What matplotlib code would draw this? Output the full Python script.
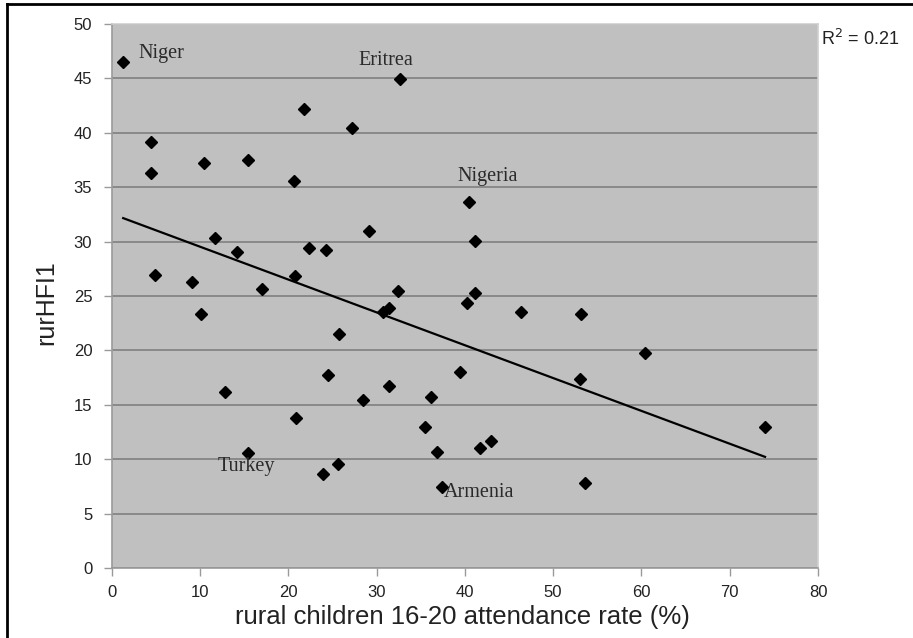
import numpy as np
import matplotlib
matplotlib.use('Agg')
import matplotlib.pyplot as plt
from matplotlib.lines import Line2D

# attendance rate (%) and rurHFI1 for each country
attendance = [1.3, 4.45, 4.45, 10.5, 15.4, 20.6, 21.8, 27.2, 32.6, 29.1,
              11.7, 14.15, 22.3, 24.3, 4.87, 9.13, 17.06, 20.8, 32.45, 31.4,
              30.75, 40.5, 41.1, 41.1, 40.3, 10.1, 25.8, 24.45, 39.5, 12.8,
              31.4, 28.5, 36.2, 20.9, 35.5, 15.4, 36.9, 25.6, 23.9, 37.4,
              46.4, 53.2, 60.4, 53.0, 74.0, 41.7, 43.0, 53.6]
hfi = [46.5, 39.2, 36.3, 37.2, 37.5, 35.6, 42.15, 40.4, 44.9, 31.0,
       30.3, 29.05, 29.45, 29.2, 26.9, 26.26, 25.6, 26.8, 25.46, 23.9,
       23.5, 33.6, 30.1, 25.3, 24.35, 23.3, 21.5, 17.75, 18.0, 16.2,
       16.7, 15.4, 15.75, 13.8, 13.0, 10.55, 10.7, 9.54, 8.6, 7.4,
       23.5, 23.35, 19.8, 17.4, 13.0, 11.0, 11.65, 7.8]

# labelled countries: name, text position (x, y)
country_names = ['Niger', 'Eritrea', 'Nigeria', 'Turkey', 'Armenia']
label_x = [3.0, 28.0, 39.2, 12.0, 37.6]
label_y = [47.3, 46.6, 36.0, 9.3, 6.9]

r2_text = 'R$^2$ = 0.21'
x_ticks = [0, 10, 20, 30, 40, 50, 60, 70, 80]
y_ticks = [0, 5, 10, 15, 20, 25, 30, 35, 40, 45, 50]

W, H = 913, 638
fig = plt.figure(figsize=(W / 100, H / 100), dpi=100)
fig.patch.set_facecolor('white')

ax = fig.add_axes([111.7 / W, (H - 568) / H, (818 - 111.7) / W, (568 - 24) / H])
ax.set_facecolor('#c0c0c0')
ax.set_xlim(0, 80)
ax.set_ylim(0, 50)
ax.set_xticks(x_ticks)
ax.set_yticks(y_ticks)
ax.yaxis.grid(True, color='#858585', linewidth=1.3)
ax.set_axisbelow(True)
for side in ['left', 'bottom']:
    ax.spines[side].set_color('#9a9a9a')
    ax.spines[side].set_linewidth(1.2)
for side in ['top', 'right']:
    ax.spines[side].set_color('#d0d0d0')
    ax.spines[side].set_linewidth(1.2)
ax.tick_params(axis='both', direction='out', length=6, width=1, color='#9a9a9a',
               labelsize=12, labelcolor='#222222')
ax.tick_params(axis='y', pad=8)
ax.tick_params(axis='x', pad=6)
for lab in ax.get_xticklabels() + ax.get_yticklabels():
    lab.set_family('Liberation Sans')

# trend line from a least-squares fit
x = np.array(attendance)
y = np.array(hfi)
slope, intercept = np.polyfit(x, y, 1)
xs = np.array([x.min(), x.max()])
ax.plot(xs, slope * xs + intercept, color='black', linewidth=1.6, zorder=3)

ax.plot(attendance, hfi, linestyle='none', marker='D', markersize=6.3,
        color='black', zorder=4)

for name, lx, ly in zip(country_names, label_x, label_y):
    ax.text(lx, ly, name, family='Liberation Serif', fontsize=14.5,
            color='#2a2a2a', ha='left', va='center', zorder=5)

fig.text(821 / W, 1 - 39 / H, r2_text, family='Liberation Sans', fontsize=13,
         color='#222222', ha='left', va='center')
fig.text(46 / W, 1 - 303 / H, 'rurHFI1', family='Liberation Sans', fontsize=18,
         color='#222222', rotation=90, ha='center', va='center')
fig.text(462 / W, 1 - 624 / H,
         'rural children 16-20 attendance rate (%)', family='Liberation Sans',
         fontsize=18.5, color='#222222', ha='center', va='baseline')

# frame lines along the top and left edges
fig.add_artist(Line2D([7 / W, 7 / W], [0, 1 - 4 / H], color='black',
                      linewidth=2, transform=fig.transFigure))
fig.add_artist(Line2D([7 / W, 1], [1 - 4 / H, 1 - 4 / H], color='black',
                      linewidth=2, transform=fig.transFigure))

fig.savefig('out.png', dpi=100)
